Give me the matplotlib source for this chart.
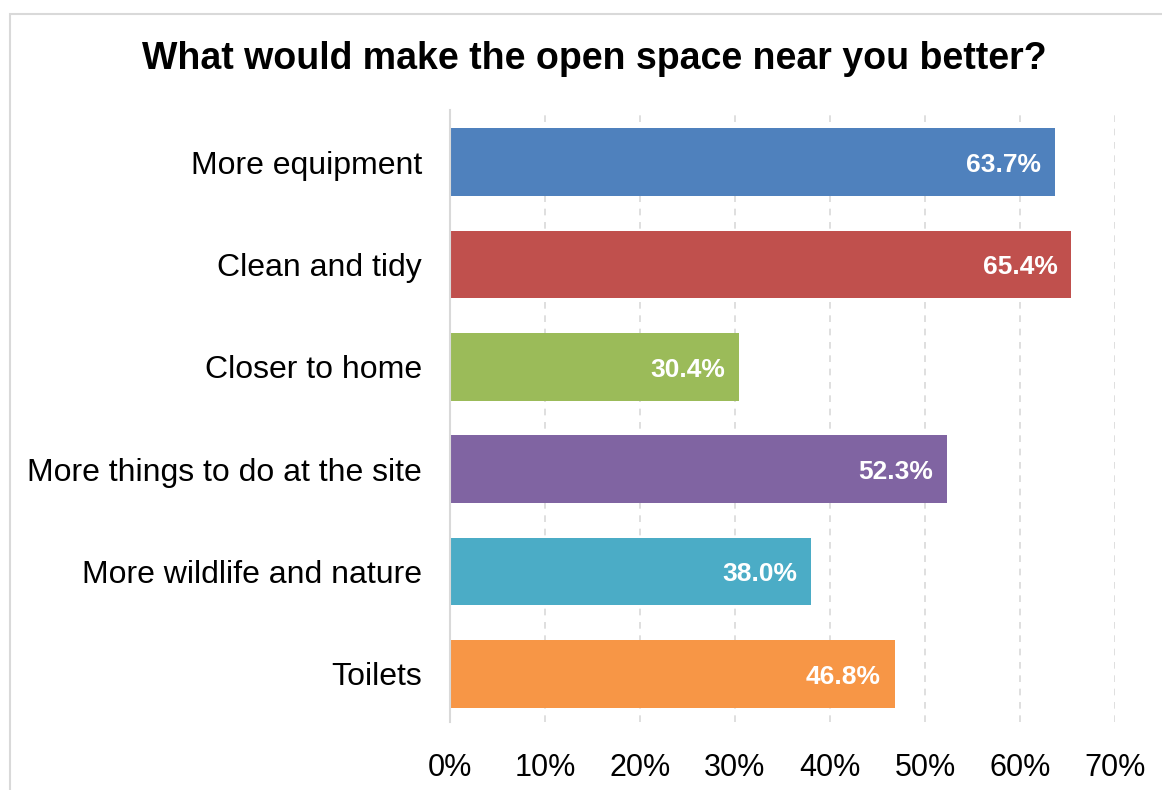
import matplotlib
matplotlib.use("Agg")
import matplotlib.pyplot as plt
from matplotlib.patches import Rectangle
from matplotlib.ticker import FuncFormatter, MultipleLocator

plt.rcParams['font.family'] = ['Liberation Sans', 'DejaVu Sans']

categories = ['More equipment', 'Clean and tidy', 'Closer to home',
              'More things to do at the site', 'More wildlife and nature', 'Toilets']
values = [63.7, 65.4, 30.4, 52.3, 38.0, 46.8]
colors = ['#4F81BD', '#C0504D', '#9BBB59', '#8064A2', '#4BACC6', '#F79646']
title = 'What would make the open space near you better?'

fig = plt.figure(figsize=(11.62, 7.9), dpi=100)
W, H = 1162, 790

# light frame round the chart area
fig.patches.append(Rectangle((10 / W, -0.1), 1.2, (H - 14) / H + 0.1,
                             transform=fig.transFigure, fill=False,
                             edgecolor='#D9D9D9', linewidth=1.5))

ax = fig.add_axes([450 / W, 1 - 722 / H, (1115 - 450) / W, (722 - 110) / H])

y = range(len(categories))
ax.barh(y, values, height=0.66, color=colors, zorder=3)

for i, v in enumerate(values):
    ax.annotate(f'{v:.1f}%', xy=(v, i), xytext=(-10, -2), textcoords='offset points',
                ha='right', va='center', color='white', fontsize=19,
                fontweight='bold', zorder=4)

ax.set_xlim(0, 70)
ax.set_ylim(5.47, -0.51)
ax.xaxis.set_major_locator(MultipleLocator(10))
ax.xaxis.set_major_formatter(FuncFormatter(lambda x, _: f'{x:.0f}%'))
ax.set_yticks(list(y))
ax.set_yticklabels(categories)

ax.grid(axis='x', color='#D9D9D9', linestyle=(0, (4, 4)), linewidth=1.2, zorder=0)
ax.tick_params(axis='both', length=0, colors='black')
ax.tick_params(axis='y', pad=20, labelsize=23)
ax.tick_params(axis='x', pad=22, labelsize=22)

for side in ['top', 'right', 'bottom']:
    ax.spines[side].set_visible(False)
ax.spines['left'].set_color('#D9D9D9')
ax.spines['left'].set_linewidth(1.5)
ax.spines['left'].set_zorder(5)

fig.text(594 / W, 1 - 59 / H, title, ha='center', va='center',
         fontsize=27, fontweight='bold')

fig.savefig('out.png', dpi=100)
